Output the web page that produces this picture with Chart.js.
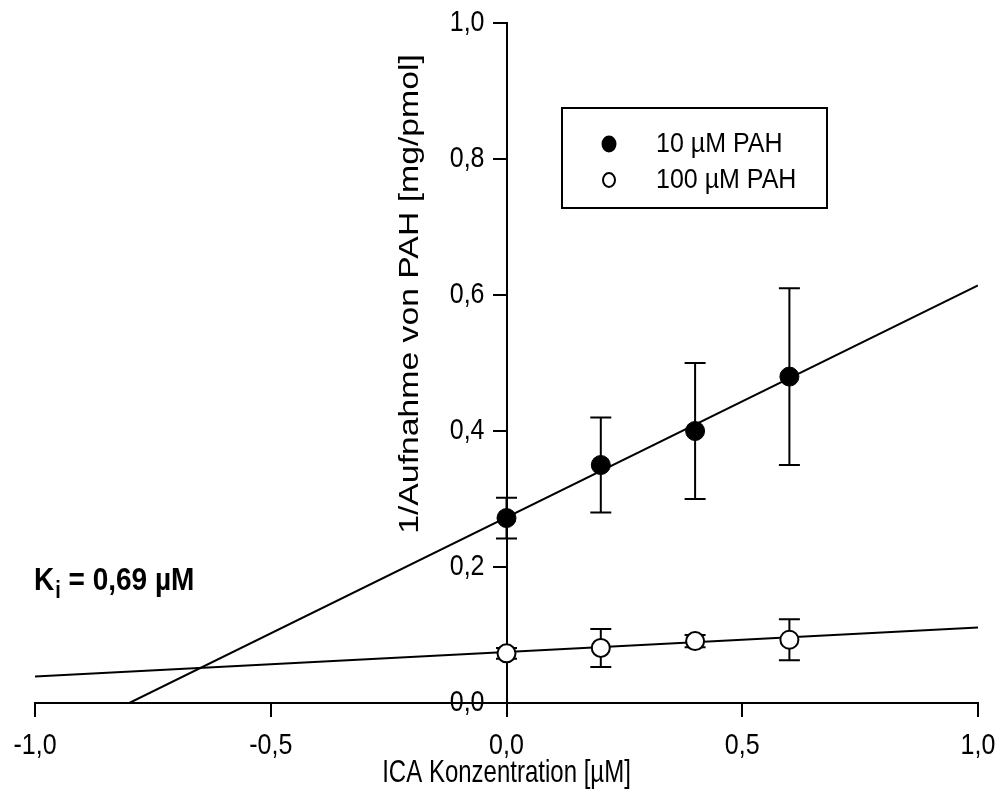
<!DOCTYPE html>
<html>
<head>
<meta charset="utf-8">
<script src="https://cdn.jsdelivr.net/npm/chart.js@4"></script>
<style>
    html, body { margin: 0; padding: 0; background: #fff; }
    #wrap { width: 998px; height: 811px; position: relative; }
</style>
</head>
<body>
<div id="wrap"><canvas id="kiChart"></canvas></div>
<script>
// --- data ---
const concentrations = [0, 0.2, 0.4, 0.6];
const pah10 = [0.272, 0.35, 0.40, 0.48];
const pah10Err = [0.03, 0.07, 0.10, 0.13];
const pah100 = [0.073, 0.081, 0.091, 0.093];
const pah100Err = [0.008, 0.028, 0.009, 0.03];
// regression lines (end points)
const fit10X = [-0.8, 1.0];
const fit10Y = [0, 0.614];
const fit100X = [-1.0, 1.0];
const fit100Y = [0.039, 0.111];
const xTicks = [-1, -0.5, 0, 0.5, 1];
const yTicks = [0, 0.2, 0.4, 0.6, 0.8, 1.0];
const seriesLabels = ['10 µM PAH', '100 µM PAH'];

const FONT = '"Liberation Sans", Arial, sans-serif';
const fmt = v => v.toFixed(1).replace('.', ',');
const toPts = (xs, ys) => xs.map((x, i) => ({ x: x, y: ys[i] }));

// text in the original is a bit taller than it is wide
function stretchedText(ctx, text, x, y, font, sy, align, baseline, rotate) {
    ctx.save();
    ctx.translate(x, y);
    ctx.scale(1, sy);
    if (rotate) ctx.rotate(-Math.PI / 2);
    ctx.font = font;
    ctx.textAlign = align;
    ctx.textBaseline = baseline;
    ctx.fillText(text, 0, 0);
    const w = ctx.measureText(text).width;
    ctx.restore();
    return w;
}

// error bars, drawn under the markers
const errorBars = {
    id: 'errorBars',
    beforeDatasetsDraw(chart) {
        const ctx = chart.ctx;
        const xs = chart.scales.x, ys = chart.scales.y;
        ctx.save();
        ctx.strokeStyle = '#000';
        ctx.lineWidth = 2;
        [[pah10, pah10Err], [pah100, pah100Err]].forEach(([vals, errs]) => {
            concentrations.forEach((c, i) => {
                const px = xs.getPixelForValue(c);
                const top = ys.getPixelForValue(vals[i] + errs[i]);
                const bot = ys.getPixelForValue(vals[i] - errs[i]);
                ctx.beginPath();
                ctx.moveTo(px, top); ctx.lineTo(px, bot);
                ctx.moveTo(px - 10.5, top); ctx.lineTo(px + 10.5, top);
                ctx.moveTo(px - 10.5, bot); ctx.lineTo(px + 10.5, bot);
                ctx.stroke();
            });
        });
        ctx.restore();
    }
};

// tick labels, titles, legend box, Ki note
const decorations = {
    id: 'decorations',
    afterDraw(chart) {
        const ctx = chart.ctx;
        const xs = chart.scales.x, ys = chart.scales.y;
        const x0 = xs.getPixelForValue(0), y0 = ys.getPixelForValue(0);
        const tickFont = '25px ' + FONT;
        ctx.save();
        ctx.fillStyle = '#000';

        yTicks.forEach(v => stretchedText(ctx, fmt(v), x0 - 22, ys.getPixelForValue(v), tickFont, 1.2, 'right', 'middle'));
        xTicks.forEach(v => stretchedText(ctx, fmt(v), xs.getPixelForValue(v), y0 + 43, tickFont, 1.2, 'center', 'middle'));

        stretchedText(ctx, 'ICA Konzentration [µM]', x0, 773, '24px ' + FONT, 1.3, 'center', 'middle');
        stretchedText(ctx, '1/Aufnahme von PAH [mg/pmol]', 411, 294, '27px ' + FONT, 1.25, 'center', 'middle', true);

        // Ki annotation with subscript
        let kx = 34;
        kx += stretchedText(ctx, 'K', kx, 590, 'bold 28px ' + FONT, 1.12, 'left', 'alphabetic');
        kx += stretchedText(ctx, 'i', kx + 1, 598, 'bold 20px ' + FONT, 1.2, 'left', 'alphabetic') + 1;
        stretchedText(ctx, ' = 0,69 µM', kx, 590, 'bold 28px ' + FONT, 1.12, 'left', 'alphabetic');

        // legend box
        ctx.strokeStyle = '#000';
        ctx.lineWidth = 2;
        ctx.strokeRect(562, 108, 265, 100);
        const legFont = '25px ' + FONT;
        stretchedText(ctx, seriesLabels[0], 656, 144, legFont, 1.12, 'left', 'middle');
        stretchedText(ctx, seriesLabels[1], 656, 180, legFont, 1.12, 'left', 'middle');
        ctx.beginPath();
        ctx.ellipse(609, 144, 7.5, 8.5, 0, 0, Math.PI * 2);
        ctx.fill();
        ctx.beginPath();
        ctx.ellipse(609, 180, 6, 7, 0, 0, Math.PI * 2);
        ctx.fillStyle = '#fff';
        ctx.fill();
        ctx.stroke();
        ctx.restore();
    }
};

const axisCommon = {
    type: 'linear',
    grid: { drawOnChartArea: false, drawTicks: true, tickLength: 13, color: '#000', lineWidth: 2 },
    border: { display: true, color: '#000', width: 2 },
    ticks: { display: false }
};

new Chart(document.getElementById('kiChart'), {
    type: 'scatter',
    data: {
        datasets: [
            {
                label: seriesLabels[0],
                data: toPts(concentrations, pah10),
                backgroundColor: '#000', borderColor: '#000',
                pointRadius: 9.5, pointBorderWidth: 1, order: 0
            },
            {
                label: seriesLabels[1],
                data: toPts(concentrations, pah100),
                backgroundColor: '#fff', borderColor: '#000',
                pointRadius: 9, pointBorderWidth: 2, order: 0
            },
            {
                label: 'fit10',
                data: toPts(fit10X, fit10Y),
                showLine: true, pointRadius: 0,
                borderColor: '#000', borderWidth: 2, order: 1
            },
            {
                label: 'fit100',
                data: toPts(fit100X, fit100Y),
                showLine: true, pointRadius: 0,
                borderColor: '#000', borderWidth: 2, order: 1
            }
        ]
    },
    options: {
        responsive: true,
        maintainAspectRatio: false,
        animation: false,
        layout: { padding: { left: 35, right: 20, top: 23, bottom: 108 } },
        plugins: { legend: { display: false }, tooltip: { enabled: false } },
        scales: {
            x: Object.assign({}, axisCommon, {
                min: -1, max: 1,
                position: { y: 0 },
                afterBuildTicks: s => { s.ticks = xTicks.map(v => ({ value: v })); },
                afterFit: s => { s.height = 0; }
            }),
            y: Object.assign({}, axisCommon, {
                min: 0, max: 1,
                position: { x: 0 },
                afterBuildTicks: s => { s.ticks = yTicks.map(v => ({ value: v })); },
                afterFit: s => { s.width = 0; }
            })
        }
    },
    plugins: [errorBars, decorations]
});
</script>
</body>
</html>
